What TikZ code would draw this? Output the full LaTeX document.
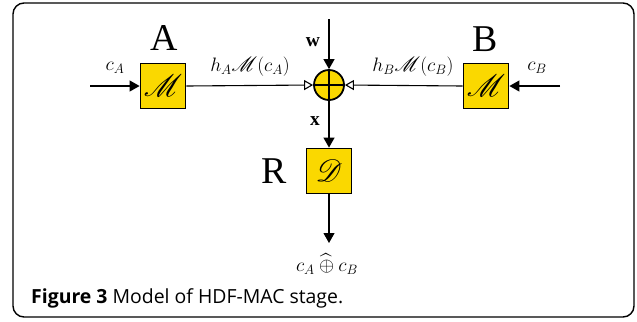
\RequirePackage{fix-cm}
\documentclass[tikz,border=0pt]{standalone}
\usepackage{fontspec}
\usepackage{amsmath}
\usepackage{mathrsfs}
\setmainfont{Liberation Serif}
\newfontfamily\capfont{Open Sans}
\usetikzlibrary{arrows.meta}
\definecolor{boxyellow}{RGB}{250,216,0}
\tikzset{
  blockbox/.style={draw=black, line width=1.8bp, fill=boxyellow, minimum width=45bp, minimum height=45bp, inner sep=0pt},
  sumnode/.style={draw=black, line width=1.8bp, fill=boxyellow, circle, minimum size=30bp, inner sep=0pt},
  conn/.style={line width=1.1bp, -{Triangle[length=10bp,width=11bp]}},
  openconn/.style={line width=1.1bp, -{Triangle[open,length=9bp,width=10bp,fill=white]}},
  biglabel/.style={font=\fontsize{38}{40}\selectfont, inner sep=0pt},
  mlabel/.style={font=\fontsize{19.5}{21}\selectfont, inner sep=0pt},
  boxsym/.style={font=\fontsize{28}{30}\selectfont},
}
\begin{document}
\begin{tikzpicture}[x=1bp,y=-1bp]
\useasboundingbox (0,0) rectangle (637,321);
\draw[line width=1.4bp, rounded corners=11bp] (13,3) rectangle (634,317) ;
\node[blockbox, boxsym] (A) at (163,86) {\scalebox{1.25}{$\mathscr{M}$}};
\node[blockbox, boxsym] (B) at (486,86) {\scalebox{1.25}{$\mathscr{M}$}};
\node[sumnode] (S) at (329,85) {};
\draw[line width=1.1bp] (S.north) -- (S.south) (S.west) -- (S.east);
\node[blockbox, boxsym] (R) at (329,171) {\scalebox{1.25}{$\mathscr{D}$}};
\coordinate (inA) at (90,86);
\coordinate (inB) at (560,86);
\coordinate (inW) at (329,19);
\coordinate (out) at (329,243);
\draw[conn] (inA) -- (A.west);
\draw[conn] (inB) -- (B.east);
\draw[conn] (inW) -- (S.north);
\draw[conn] (S.south) -- (R.north);
\draw[conn] (R.south) -- (out);
\draw[openconn] (A.east) -- (S.west);
\draw[openconn] (B.west) -- (S.east);
\node[biglabel] (lA) at (164,38) {A};
\node[biglabel] (lB) at (485,39) {B};
\node[biglabel] (lR) at (274,171) {R};
\node[mlabel] (lcA) at (115,68) {$c_A$};
\node[mlabel] (lcB) at (537,68) {$c_B$};
\node[mlabel] (lhA) at (250,67) {$h_A\mathscr{M}(c_A)$};
\node[mlabel] (lhB) at (413,67) {$h_B\mathscr{M}(c_B)$};
\node[mlabel] (lw) at (313,42) {$\mathbf{w}$};
\node[mlabel] (lx) at (315,121) {$\mathbf{x}$};
\node[mlabel] (lout) at (327,264) {$c_A\mathbin{\widehat{\oplus}}c_B$};
\node[anchor=base west, inner sep=0pt, font=\capfont\fontsize{19.5}{22}\selectfont] (cap) at (31,303) {\textbf{Figure 3} Model of HDF-MAC stage.};
\end{tikzpicture}
\end{document}
